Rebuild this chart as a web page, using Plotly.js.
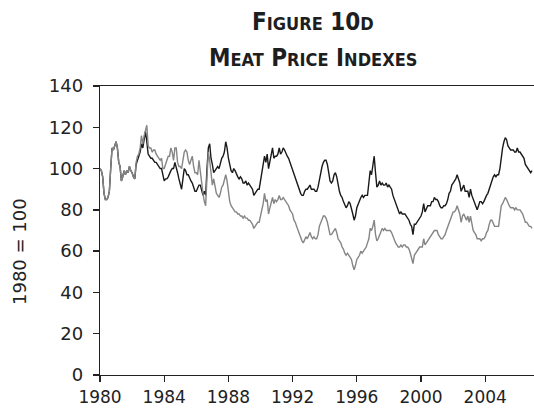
<!DOCTYPE html>
<html>
<head>
<meta charset="utf-8">
<script src="https://cdn.plot.ly/plotly-3.0.1.min.js"></script>
<style>html,body{margin:0;padding:0;background:#fff;}#chart{width:534px;height:408px;}</style>
</head>
<body>
<div id="chart"></div>
<script>
// Monthly index values, Jan 1980 – Dec 2006 (1980 = 100)
var startYear = 1980;
var seriesBlack = [
  100, 99, 96, 88, 85, 85, 86, 89, 100, 110, 109, 111,   // 1980
  113, 110, 103, 101, 94, 96, 99, 97, 99, 98, 101, 99,   // 1981
  98, 96, 95, 102, 104, 106, 108, 112, 110, 114, 118, 113, // 1982
  107, 106, 105, 105, 104, 103, 103, 102, 101, 100, 100, 97, // 1983
  94, 95, 95, 96, 98, 99, 100, 100, 103, 101, 98, 95,     // 1984
  92, 90, 95, 100, 99, 97, 97, 95, 94, 93, 91, 89,        // 1985
  89, 91, 92, 92, 90, 87, 89, 87, 100, 110, 112, 105,     // 1986
  102, 98, 99, 100, 101, 100, 103, 105, 106, 108, 113, 110, // 1987
  105, 101, 99, 98, 100, 99, 97, 96, 95, 96, 95, 93,      // 1988
  93, 94, 92, 93, 92, 91, 90, 87, 88, 89, 90, 90,         // 1989
  94, 97, 100, 106, 103, 107, 100, 104, 106, 110, 105, 106, // 1990
  106, 107, 110, 107, 108, 110, 109, 107, 106, 105, 103, 101, // 1991
  99, 97, 95, 93, 92, 90, 88, 87, 87, 89, 90, 90,         // 1992
  91, 92, 90, 90, 90, 89, 89, 91, 95, 99, 101, 103,       // 1993
  104, 104, 102, 98, 94, 93, 94, 97, 98, 96, 92, 89,      // 1994
  87, 86, 84, 82, 81, 82, 84, 83, 81, 78, 75, 77,         // 1995
  81, 83, 85, 86, 87, 86, 87, 87, 87, 93, 99, 97,         // 1996
  103, 106, 98, 91, 92, 94, 92, 93, 92, 92, 93, 91,       // 1997
  92, 91, 90, 87, 85, 84, 81, 79, 78, 79, 78, 78,         // 1998
  78, 77, 76, 75, 73, 72, 68, 73, 73, 74, 75, 76,         // 1999
  77, 79, 83, 79, 81, 82, 82, 82, 84, 84, 86, 85,         // 2000
  85, 84, 82, 81, 81, 82, 82, 83, 85, 88, 89, 92,         // 2001
  93, 94, 95, 97, 95, 93, 89, 91, 92, 89, 89, 89,         // 2002
  86, 90, 87, 85, 83, 82, 80, 82, 84, 84, 83, 84,         // 2003
  86, 87, 88, 90, 93, 94, 96, 97, 96, 97, 97, 100,        // 2004
  106, 110, 113, 115, 114, 111, 110, 109, 109, 109, 108, 108, // 2005
  110, 108, 108, 107, 106, 105, 102, 101, 100, 99, 98, 99  // 2006
];
var seriesGray = [
  100, 99, 96, 88, 85, 85, 86, 89, 100, 110, 109, 111,   // 1980
  113, 110, 103, 101, 94, 96, 99, 97, 99, 98, 101, 99,   // 1981
  98, 96, 95, 103, 106, 107, 110, 116, 112, 116, 119, 121, // 1982
  111, 110, 110, 108, 109, 109, 107, 106, 105, 104, 105, 100, // 1983
  100, 102, 103, 106, 106, 110, 108, 104, 110, 110, 103, 101, // 1984
  101, 100, 104, 108, 109, 108, 104, 102, 104, 106, 101, 98, // 1985
  98, 97, 104, 98, 92, 88, 84, 82, 96, 108, 104, 99,      // 1986
  92, 95, 91, 88, 87, 86, 88, 91, 92, 94, 97, 94,         // 1987
  88, 84, 82, 81, 80, 79, 79, 78, 78, 77, 77, 76,         // 1988
  77, 76, 76, 75, 75, 74, 73, 71, 72, 73, 74, 74,         // 1989
  77, 79, 83, 88, 84, 85, 78, 81, 83, 86, 83, 85,         // 1990
  84, 85, 87, 85, 85, 86, 85, 84, 83, 82, 80, 79,         // 1991
  78, 75, 74, 72, 70, 68, 66, 65, 64, 66, 67, 66,         // 1992
  68, 69, 67, 66, 67, 66, 66, 68, 72, 74, 76, 77,         // 1993
  77, 76, 74, 71, 68, 68, 69, 70, 71, 69, 66, 65,         // 1994
  64, 62, 61, 59, 58, 59, 58, 57, 56, 53, 51, 53,         // 1995
  56, 57, 58, 60, 59, 60, 61, 62, 64, 66, 71, 70,         // 1996
  72, 75, 68, 65, 66, 68, 70, 71, 70, 71, 70, 70,         // 1997
  70, 70, 69, 67, 65, 64, 63, 62, 62, 63, 62, 63,         // 1998
  63, 62, 62, 61, 59, 57, 54, 58, 59, 60, 61, 62,         // 1999
  62, 62, 66, 63, 64, 65, 66, 67, 68, 69, 70, 70,         // 2000
  70, 68, 67, 66, 66, 67, 68, 70, 72, 74, 75, 77,         // 2001
  79, 79, 80, 82, 80, 78, 74, 77, 78, 76, 75, 77,         // 2002
  74, 77, 74, 70, 69, 68, 66, 66, 66, 65, 66, 66,         // 2003
  67, 69, 70, 73, 75, 75, 73, 72, 72, 72, 72, 77,         // 2004
  82, 83, 85, 86, 85, 83, 82, 81, 81, 81, 80, 81,         // 2005
  80, 80, 80, 79, 78, 76, 74, 74, 73, 72, 72, 71          // 2006
];
var xTickVals = [1980, 1984, 1988, 1992, 1996, 2000, 2004];
var xTickText = ["1980", "1984", "1988", "1992", "1996", "2000", "2004"];
var yTickVals = [0, 20, 40, 60, 80, 100, 120, 140];

var years = seriesBlack.map(function (_, i) { return startYear + i / 12; });

var traces = [
  { x: years, y: seriesBlack, type: 'scatter', mode: 'lines',
    line: { color: '#1a1a1a', width: 1.4 }, hoverinfo: 'skip' },
  { x: years, y: seriesGray, type: 'scatter', mode: 'lines',
    line: { color: '#858585', width: 1.4 }, hoverinfo: 'skip' }
];

var sc = function (s) { return "<span style='font-size:18px'>" + s + "</span>"; };
var titleFont = { family: 'Liberation Sans Narrow, DejaVu Sans Condensed, sans-serif', size: 24, color: '#1e1e1e' };
var tickFont = { family: 'DejaVu Sans, sans-serif', size: 18, color: '#222222' };
var xTickFont = { family: 'DejaVu Sans, sans-serif', size: 17, color: '#222222' };

var layout = {
  width: 534, height: 408,
  margin: { l: 100, r: 0, t: 86, b: 33, pad: 0 },
  paper_bgcolor: '#ffffff', plot_bgcolor: '#ffffff',
  showlegend: false,
  font: { family: 'DejaVu Sans, sans-serif', size: 18, color: '#222222' },
  xaxis: {
    range: [1980, 2007.04], tickmode: 'array', tickvals: xTickVals, ticktext: xTickText,
    showgrid: false, zeroline: false, showline: true, linecolor: '#222222', linewidth: 1.3,
    mirror: true, ticks: 'outside', ticklen: 6, tickwidth: 1.3, tickcolor: '#222222',
    ticklabelstandoff: 0, tickfont: xTickFont
  },
  yaxis: {
    range: [0, 140], tickmode: 'array', tickvals: yTickVals,
    showgrid: false, zeroline: false, showline: true, linecolor: '#222222', linewidth: 1.3,
    ticks: 'outside', ticklen: 6, tickwidth: 1.3, tickcolor: '#222222', ticklabelstandoff: 6,
    tickfont: tickFont
  },
  annotations: [
    { text: '<b>F' + sc('IGURE') + ' 10' + sc('D') + '</b>', xref: 'paper', yref: 'paper',
      x: (313 - 100) / 434, y: 1 + (86 - 22) / 289, xanchor: 'center', yanchor: 'middle',
      showarrow: false, font: titleFont },
    { text: '<b>M' + sc('EAT') + ' P' + sc('RICE') + ' I' + sc('NDEXES') + '</b>', xref: 'paper', yref: 'paper',
      x: (313 - 100) / 434, y: 1 + (86 - 58) / 289, xanchor: 'center', yanchor: 'middle',
      showarrow: false, font: titleFont },
    { text: '1980 = 100', xref: 'paper', yref: 'paper', textangle: -90,
      x: (20 - 100) / 434, y: (375 - 252) / 289, xanchor: 'center', yanchor: 'middle',
      showarrow: false, font: tickFont }
  ]
};

Plotly.newPlot('chart', traces, layout, { staticPlot: true, displayModeBar: false });
</script>
</body>
</html>
